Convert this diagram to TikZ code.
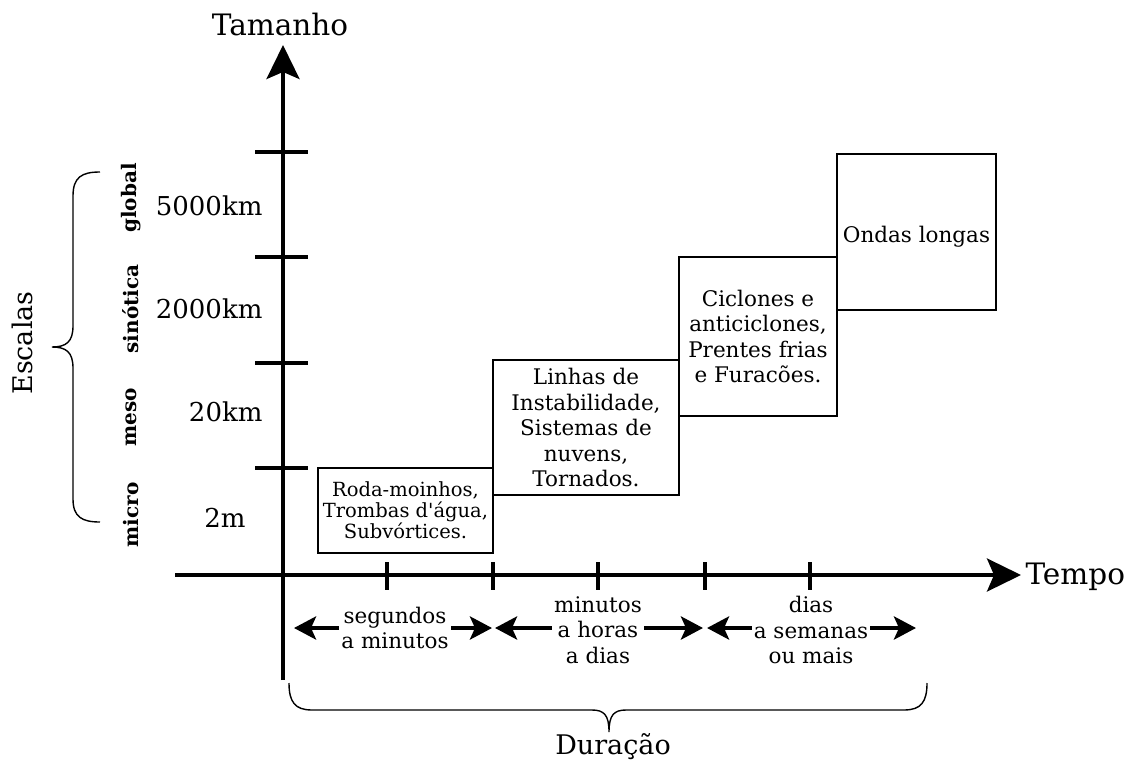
\documentclass[tikz,border=0pt]{standalone}
\usepackage{fontspec}
\setmainfont{DejaVu Serif}
\usetikzlibrary{arrows.meta}
\begin{document}
\begin{tikzpicture}[x=1pt,y=-1pt,
  axis/.style={line width=3.6pt,-{Stealth[length=34pt,width=33pt,inset=7pt]}},
  tickmark/.style={line width=3.6pt},
  brace/.style={line width=1.4pt},
  evbox/.style={draw,line width=2pt,inner sep=0pt,align=center,
    font=\fontsize{21.5}{25.5}\selectfont},
  evtext/.style={inner sep=0pt,align=center,font=\fontsize{21.5}{25.5}\selectfont},
  smallbox/.style={evbox,font=\fontsize{19.5}{20.8}\selectfont},
  spanarrow/.style={line width=4.2pt,
    {Stealth[length=22pt,width=23pt,inset=5pt]}-{Stealth[length=22pt,width=23pt,inset=5pt]}},
  spanlabel/.style={fill=white,inner sep=2pt,align=center,
    font=\fontsize{21.5}{25.5}\selectfont},
  axislabel/.style={font=\fontsize{29.5}{33}\selectfont},
  biglabel/.style={font=\fontsize{27}{31}\selectfont},
  sizelabel/.style={anchor=east,font=\fontsize{26}{30}\selectfont},
  scaleword/.style={rotate=90,font=\fontsize{20}{24}\selectfont\bfseries}]
\useasboundingbox (0,0) rectangle (1129,760);

% axes
\coordinate (ybot) at (283,680);
\coordinate (ytop) at (283,45);
\coordinate (xleft) at (175,575);
\coordinate (xright) at (1021,575);
\draw[axis] (ybot) -- (ytop);
\draw[axis] (xleft) -- (xright);
\node[axislabel,anchor=base] (tamanho) at (280,36) {Tamanho};
\node[axislabel,anchor=base west] (tempo) at (1022,584) {Tempo};

% size ticks
\foreach \yy in {152,257,363,468}
  \draw[tickmark] (255,\yy) -- (308,\yy);
% time ticks
\foreach \xx in {387,493,598,705,810}
  \draw[tickmark] (\xx,562) -- (\xx,590);

% size labels
\node[sizelabel] (s5000) at (266,206) {5000km};
\node[sizelabel] (s2000) at (266,309) {2000km};
\node[sizelabel] (s20) at (266,412) {20km};
\node[sizelabel] (s2) at (249,518) {2m};

% scale names
\node[scaleword] (wglobal) at (131,198) {global};
\node[scaleword] (wsinotica) at (131,309) {sinótica};
\node[scaleword] (wmeso) at (131,417) {meso};
\node[scaleword] (wmicro) at (131,515) {micro};

% scales brace
\draw[brace] (100,172) .. controls (82,172) and (73,177) .. (73,196) -- (73,326)
  .. controls (73,342) and (66,347) .. (52,347)
  .. controls (66,347) and (73,352) .. (73,368) -- (73,499)
  .. controls (73,517) and (82,522) .. (100,522);
\node[biglabel,rotate=90] (escalas) at (22,343) {Escalas};

% phenomena boxes
\node[smallbox,minimum width=175pt,minimum height=85pt] (micro) at (405.5,510.5)
  {Roda-moinhos,\\Trombas d\textquotesingle água,\\Subvórtices.};
\node[evbox,minimum width=186pt,minimum height=135pt] (meso) at (586,427.5)
  {Linhas de\\Instabilidade,\\Sistemas de\\nuvens,\\Tornados.};
\node[evbox,minimum width=158pt,minimum height=159pt] (sinotica) at (758,336.5)
  {Ciclones e\\anticiclones,\\Prentes frias\\e Furacões.};
\node[evbox,minimum width=159pt,minimum height=156pt] (global) at (916.5,232) {};
\node[evtext] (globaltext) at (916.5,237) {Ondas longas};

% duration arrows
\coordinate (a1l) at (294,628);
\coordinate (a1r) at (492,628);
\coordinate (a2l) at (495,628);
\coordinate (a2r) at (703,628);
\coordinate (a3l) at (707,628);
\coordinate (a3r) at (916,628);
\draw[spanarrow] (a1l) -- (a1r);
\draw[spanarrow] (a2l) -- (a2r);
\draw[spanarrow] (a3l) -- (a3r);
\node[spanlabel] (d1) at (395,628) {segundos\\a minutos};
\node[spanlabel] (d2) at (598,630) {minutos\\a horas\\a dias};
\node[spanlabel] (d3) at (811,630) {dias\\a semanas\\ou mais};

% duration brace
\draw[brace] (289,683) .. controls (289,702) and (295,710) .. (312,710) -- (592,710)
  .. controls (604,710) and (609,715) .. (609,732)
  .. controls (609,715) and (614,710) .. (626,710) -- (904,710)
  .. controls (921,710) and (927,702) .. (927,683);
\node[biglabel,anchor=base] (duracao) at (613,754) {Duração};
\end{tikzpicture}
\end{document}
